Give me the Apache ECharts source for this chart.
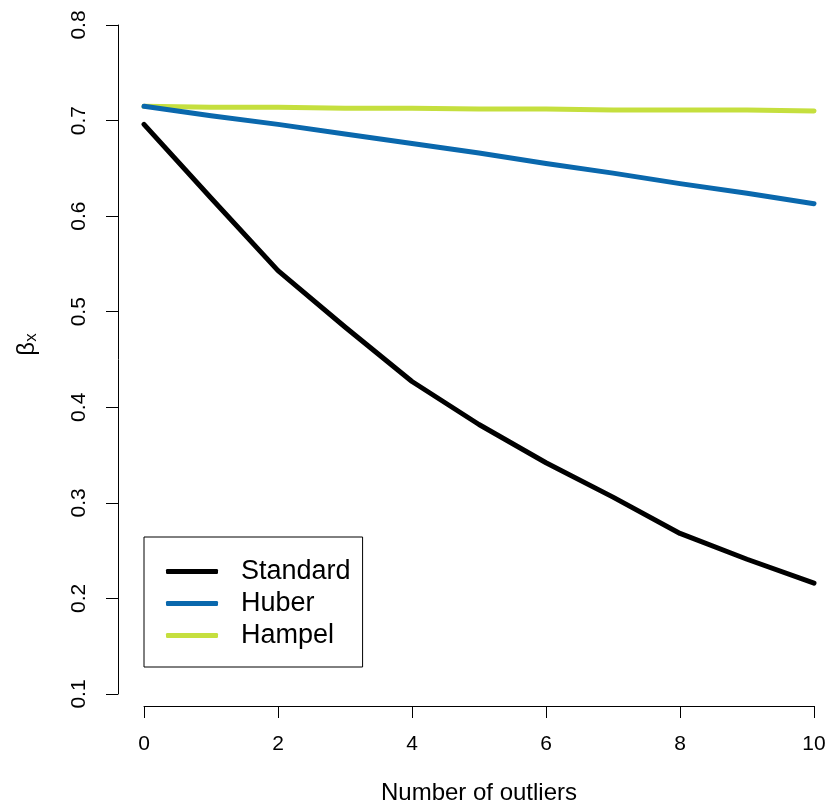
<!DOCTYPE html>
<html>
<head>
<meta charset="utf-8">
<script src="https://cdn.jsdelivr.net/npm/echarts@6/dist/echarts.min.js"></script>
<style>html,body{margin:0;padding:0;background:#fff}#c{width:829px;height:807px}</style>
</head>
<body>
<div id="c"></div>
<script>
var outliers = [0,1,2,3,4,5,6,7,8,9,10];
var standard = [0.696,0.619,0.543,0.484,0.427,0.382,0.342,0.306,0.268,0.241,0.216];
var huber    = [0.715,0.705,0.696,0.686,0.676,0.666,0.655,0.645,0.634,0.624,0.613];
var hampel   = [0.715,0.714,0.714,0.713,0.713,0.712,0.712,0.711,0.711,0.711,0.710];
var xTicks = [0,2,4,6,8,10];
var yTicks = [0.1,0.2,0.3,0.4,0.5,0.6,0.7,0.8];
var seriesNames = ['Standard','Huber','Hampel'];
var colors = ['#000000','#0a68ad','#c5df3e'];

function pairs(arr){ return outliers.map(function(x,i){ return [x, arr[i]]; }); }
var FONT = 'Liberation Sans, Arial, Helvetica, sans-serif';
var chart = echarts.init(document.getElementById('c'), null, {renderer:'canvas'});
var data = [standard, huber, hampel];
chart.setOption({
  animation:false,
  backgroundColor:'#fff',
  textStyle:{fontFamily:FONT},
  grid:{left:144, right:15, top:25, bottom:113, containLabel:false, outerBoundsMode:'none'},
  xAxis:{
    type:'value', min:0, max:10, interval:2, offset:12,
    axisLine:{show:true, onZero:false, lineStyle:{color:'#000', width:1}},
    axisTick:{show:true, length:12, inside:false, lineStyle:{color:'#000'}},
    splitLine:{show:false},
    axisLabel:{color:'#000', fontSize:21, fontFamily:FONT, margin:28,
      formatter:function(v){ return xTicks.indexOf(v)>=0 ? String(v) : ''; }},
    name:'Number of outliers', nameLocation:'middle', nameGap:75,
    nameTextStyle:{color:'#000', fontSize:24, fontFamily:FONT}
  },
  yAxis:{
    type:'value', min:0.1, max:0.8, interval:0.1, offset:26,
    axisLine:{show:true, onZero:false, lineStyle:{color:'#000', width:1}},
    axisTick:{show:true, length:12, inside:false, lineStyle:{color:'#000'}},
    splitLine:{show:false},
    axisLabel:{color:'#000', fontSize:21, fontFamily:FONT, rotate:90, margin:28,
      formatter:function(v){ return (Math.round(v*10)/10).toFixed(1); }},
    name:'{b|β}{s|x}', nameLocation:'middle', nameGap:78, nameRotate:90,
    nameTextStyle:{color:'#000', fontFamily:FONT, padding:[0,0,0,30],
      rich:{b:{fontSize:24, fontFamily:FONT, color:'#000'},
            s:{fontSize:17, fontFamily:FONT, color:'#000', verticalAlign:'bottom', padding:[8,0,0,0]}}}
  },
  legend:{
    show:true, orient:'vertical', left:144, top:537,
    padding:[21,12,18,22], itemGap:5, itemWidth:52, itemHeight:5,
    borderColor:'#000', borderWidth:1, borderRadius:0,
    icon:'roundRect',
    textStyle:{color:'#000', fontSize:27, fontFamily:FONT, padding:[0,0,0,18]},
    data:seriesNames
  },
  series: seriesNames.map(function(n,i){
    return {
      name:n, type:'line', data:pairs(data[i]), symbol:'none', smooth:false,
      color:colors[i],
      lineStyle:{color:colors[i], width:5, cap:'round', join:'round'},
      itemStyle:{color:colors[i]},
      z: 3-i
    };
  })
});
</script>
</body>
</html>
